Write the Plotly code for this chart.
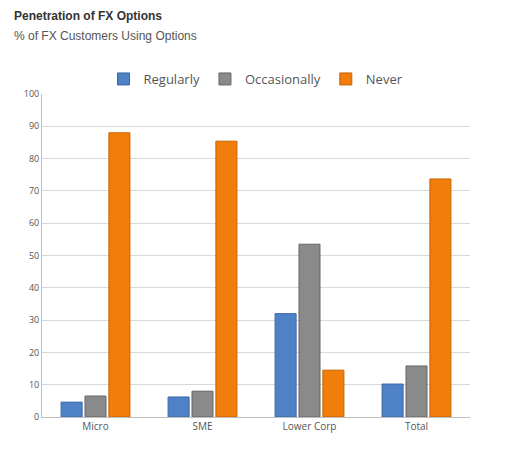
import plotly.graph_objects as go

categories = ["Micro", "SME", "Lower Corp", "Total"]
regularly = [4.6, 6.2, 32, 10.2]
occasionally = [6.5, 8, 53.5, 15.8]
never = [88, 85.4, 14.5, 73.7]

fig = go.Figure()
for name, vals, col, line in [("Regularly", regularly, "#4f81c7", "#3a66a8"),
                              ("Occasionally", occasionally, "#8a8a8a", "#666666"),
                              ("Never", never, "#f17d0a", "#c76305")]:
    fig.add_bar(x=categories, y=vals, name=name, marker_color=col,
                marker_line_color=line, marker_line_width=1)

fig.update_layout(
    width=512, height=467, barmode="group", bargap=0.33, bargroupgap=0.12,
    plot_bgcolor="white", paper_bgcolor="white",
    margin=dict(l=34, r=50, t=86, b=58),
    font=dict(family="Open Sans, Arial", size=10, color="#444"),
    legend=dict(orientation="h", x=0.5, xanchor="center", y=1.0, yanchor="bottom",
                font=dict(size=13, color="#555"), itemwidth=30, tracegroupgap=0),
    yaxis=dict(range=[0, 100], dtick=10, gridcolor="#d9d9d9", showline=True,
               linecolor="#bfbfbf", tickfont=dict(size=9, color="#555")),
    xaxis=dict(showline=True, linecolor="#bfbfbf", tickfont=dict(size=10, color="#555")),
)
fig.add_annotation(text="<b>Penetration of FX Options</b>", xref="paper", yref="paper",
                   x=-0.07, y=1.24, xanchor="left", yanchor="middle", showarrow=False,
                   font=dict(size=12, color="#333", family="Arial"))
fig.add_annotation(text="% of FX Customers Using Options", xref="paper", yref="paper",
                   x=-0.07, y=1.18, xanchor="left", yanchor="middle", showarrow=False,
                   font=dict(size=12, color="#555", family="Arial"))
fig.write_html("out.html")
